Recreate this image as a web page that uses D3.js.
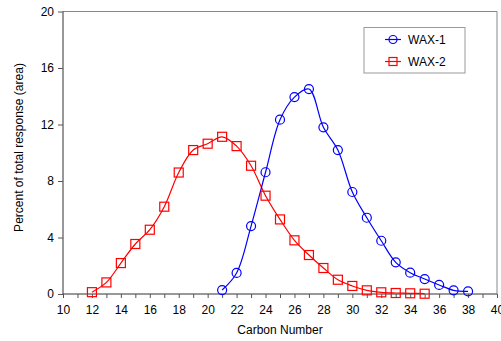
<!DOCTYPE html>
<html lang="en">
<head>
    <meta charset="UTF-8">
    <title>Carbon Number</title>
    <script src="https://d3js.org/d3.v7.min.js"></script>
    <style>
        body { margin: 0; background: #fff; }
        text { font-family: "Liberation Sans", Arial, sans-serif; }
    </style>
</head>
<body>
<script>
    const width  = 501;
    const height = 341;
    const margin = {top: 11.5, right: 4, bottom: 47, left: 63};

    const wax1X = [21, 22, 23, 24, 25, 26, 27, 28, 29, 30, 31, 32, 33, 34, 35, 36, 37, 38];
    const wax1Y = [0.28, 1.49, 4.81, 8.62, 12.34, 13.94, 14.51, 11.8, 10.19, 7.22, 5.4, 3.77, 2.24, 1.51, 1.06, 0.64, 0.26, 0.19];

    const wax2X = [12, 13, 14, 15, 16, 17, 18, 19, 20, 21, 22, 23, 24, 25, 26, 27, 28, 29, 30, 31, 32, 33, 34, 35];
    const wax2Y = [0.13, 0.82, 2.19, 3.54, 4.55, 6.18, 8.6, 10.19, 10.64, 11.13, 10.47, 9.08, 6.96, 5.28, 3.8, 2.76, 1.84, 1.01, 0.57, 0.26, 0.12, 0.07, 0.05, 0.02];

    const xTicks = d3.range(10, 41, 2);
    const yTicks = [0, 4, 8, 12, 16, 20];

    const seriesNames = ["WAX-1", "WAX-2"];
    const colors = ["#0000ff", "#ff0000"];

    const scaleX = d3.scaleLinear().domain([10, 40]).range([margin.left, width - margin.right]);
    const scaleY = d3.scaleLinear().domain([0, 20]).range([height - margin.bottom, margin.top]);

    const svg = d3.select("body").append("svg").attr("width", width).attr("height", height);

    // frame on top and right
    svg.append("path")
        .attr("d", `M${scaleX(10)},${scaleY(20)}H${scaleX(40)}V${scaleY(0)}`)
        .style("fill", "none").style("stroke", "#888");

    const xAxis = d3.axisBottom(scaleX).tickValues(d3.range(10, 41, 1)).tickSize(4)
        .tickFormat(d => xTicks.includes(d) ? d : "");
    const yAxis = d3.axisLeft(scaleY).tickValues(yTicks).tickSize(5);

    const gx = svg.append("g").attr("transform", "translate(" + [0, scaleY(0)] + ")").call(xAxis);
    const gy = svg.append("g").attr("transform", "translate(" + [scaleX(10), 0] + ")").call(yAxis);

    [gx, gy].forEach(g => {
        g.select(".domain").style("stroke", "#333");
        g.selectAll(".tick line").style("stroke", "#555");
        g.selectAll(".tick text").style("font-size", "12px").style("fill", "#000")
            .style("font-family", "'Liberation Sans', Arial, sans-serif");
    });
    gx.selectAll(".tick text").attr("dy", "1.05em");
    gx.select(".domain").attr("d", `M${scaleX(10)},0H${scaleX(40)}`);
    gy.select(".domain").attr("d", `M0,${scaleY(0)}V${scaleY(20)}`);
    gy.selectAll(".tick text").attr("x", -9);

    svg.append("text")
        .attr("x", (scaleX(10) + scaleX(40)) / 2).attr("y", 334)
        .attr("text-anchor", "middle").style("font-size", "12px")
        .text("Carbon Number");

    svg.append("text")
        .attr("transform", "translate(23,147.5) rotate(-90)")
        .attr("text-anchor", "middle").style("font-size", "12px")
        .text("Percent of total response (area)");

    const line = d3.line()
        .x(d => scaleX(d[0]))
        .y(d => scaleY(d[1]))
        .curve(d3.curveCatmullRom.alpha(0.5));

    const wax1 = wax1X.map((x, i) => [x, wax1Y[i]]);
    const wax2 = wax2X.map((x, i) => [x, wax2Y[i]]);

    svg.append("path").attr("d", line(wax2))
        .style("stroke", colors[1]).style("stroke-width", 1.2).style("fill", "none");
    svg.append("path").attr("d", line(wax1))
        .style("stroke", colors[0]).style("stroke-width", 1.2).style("fill", "none");

    svg.selectAll(".sq").data(wax2).enter().append("rect")
        .attr("x", d => scaleX(d[0]) - 4.5).attr("y", d => scaleY(d[1]) - 4.5)
        .attr("width", 9).attr("height", 9)
        .style("fill", "none").style("stroke", colors[1]).style("stroke-width", 1.2);

    svg.selectAll(".ci").data(wax1).enter().append("circle")
        .attr("cx", d => scaleX(d[0])).attr("cy", d => scaleY(d[1])).attr("r", 4.5)
        .style("fill", "none").style("stroke", colors[0]).style("stroke-width", 1.2);

    // legend
    const lg = svg.append("g").attr("transform", "translate(364,27.5)");
    lg.append("rect").attr("width", 101).attr("height", 45.5)
        .style("fill", "#fff").style("stroke", "#999");
    seriesNames.forEach((name, i) => {
        const y = 12 + i * 22;
        lg.append("line").attr("x1", 21).attr("x2", 37).attr("y1", y).attr("y2", y)
            .style("stroke", colors[i]).style("stroke-width", 1.2);
        if (i === 0) {
            lg.append("circle").attr("cx", 29).attr("cy", y).attr("r", 4)
                .style("fill", "none").style("stroke", colors[i]).style("stroke-width", 1.2);
        } else {
            lg.append("rect").attr("x", 25).attr("y", y - 4).attr("width", 8).attr("height", 8)
                .style("fill", "none").style("stroke", colors[i]).style("stroke-width", 1.2);
        }
        lg.append("text").attr("x", 44).attr("y", y + 4.5)
            .style("font-size", "12px").text(name);
    });
</script>
</body>
</html>
